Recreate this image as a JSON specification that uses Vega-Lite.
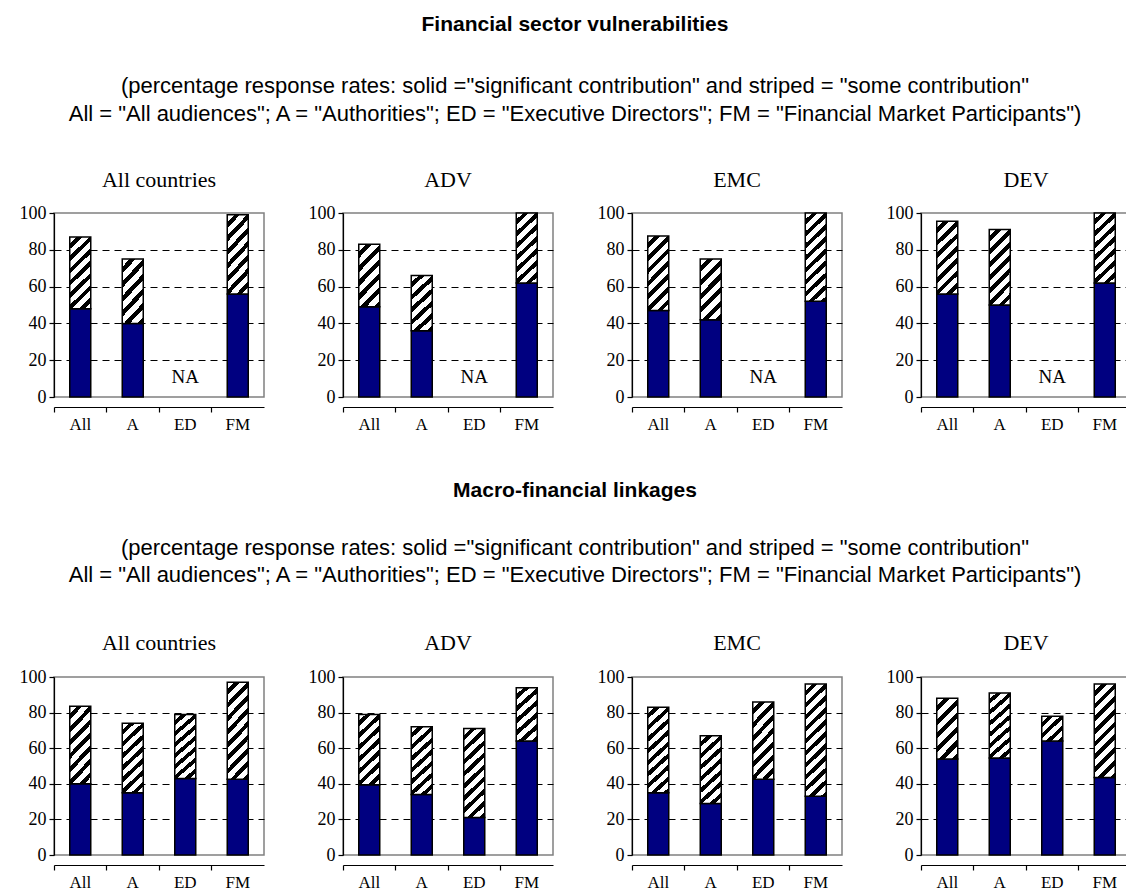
{
  "$schema": "https://vega.github.io/schema/vega-lite/v6.json",
  "background": "white",
  "padding": {"left": 18, "top": 14, "right": 0, "bottom": 0},
  "datasets": {
    "d": [
      {"sec": "F", "grp": "All countries", "aud": "All", "sig": 48, "total": 87},
      {"sec": "F", "grp": "All countries", "aud": "A", "sig": 40, "total": 75},
      {"sec": "F", "grp": "All countries", "aud": "ED", "sig": null, "total": null},
      {"sec": "F", "grp": "All countries", "aud": "FM", "sig": 56, "total": 99},
      {"sec": "F", "grp": "ADV", "aud": "All", "sig": 49, "total": 83},
      {"sec": "F", "grp": "ADV", "aud": "A", "sig": 36, "total": 66},
      {"sec": "F", "grp": "ADV", "aud": "ED", "sig": null, "total": null},
      {"sec": "F", "grp": "ADV", "aud": "FM", "sig": 62, "total": 100},
      {"sec": "F", "grp": "EMC", "aud": "All", "sig": 47, "total": 87.5},
      {"sec": "F", "grp": "EMC", "aud": "A", "sig": 42, "total": 75},
      {"sec": "F", "grp": "EMC", "aud": "ED", "sig": null, "total": null},
      {"sec": "F", "grp": "EMC", "aud": "FM", "sig": 52, "total": 100},
      {"sec": "F", "grp": "DEV", "aud": "All", "sig": 56, "total": 95.5},
      {"sec": "F", "grp": "DEV", "aud": "A", "sig": 50, "total": 91},
      {"sec": "F", "grp": "DEV", "aud": "ED", "sig": null, "total": null},
      {"sec": "F", "grp": "DEV", "aud": "FM", "sig": 62, "total": 100},
      {"sec": "M", "grp": "All countries", "aud": "All", "sig": 40, "total": 83.5},
      {"sec": "M", "grp": "All countries", "aud": "A", "sig": 35, "total": 74},
      {"sec": "M", "grp": "All countries", "aud": "ED", "sig": 43, "total": 79},
      {"sec": "M", "grp": "All countries", "aud": "FM", "sig": 42.5, "total": 97},
      {"sec": "M", "grp": "ADV", "aud": "All", "sig": 39.5, "total": 79},
      {"sec": "M", "grp": "ADV", "aud": "A", "sig": 34, "total": 72},
      {"sec": "M", "grp": "ADV", "aud": "ED", "sig": 21, "total": 71},
      {"sec": "M", "grp": "ADV", "aud": "FM", "sig": 64, "total": 94},
      {"sec": "M", "grp": "EMC", "aud": "All", "sig": 35, "total": 83},
      {"sec": "M", "grp": "EMC", "aud": "A", "sig": 29, "total": 67},
      {"sec": "M", "grp": "EMC", "aud": "ED", "sig": 42.5, "total": 86},
      {"sec": "M", "grp": "EMC", "aud": "FM", "sig": 33, "total": 96},
      {"sec": "M", "grp": "DEV", "aud": "All", "sig": 54, "total": 88},
      {"sec": "M", "grp": "DEV", "aud": "A", "sig": 54.5, "total": 91},
      {"sec": "M", "grp": "DEV", "aud": "ED", "sig": 64, "total": 78},
      {"sec": "M", "grp": "DEV", "aud": "FM", "sig": 43.5, "total": 96}
    ]
  },
  "config": {
    "view": {"stroke": "#808080", "strokeWidth": 1.5},
    "axis": {"domainColor": "black", "tickColor": "black", "labelColor": "black", "labelFont": "Liberation Serif", "tickSize": 5, "domainWidth": 1.2, "tickWidth": 1.2, "labelOverlap": false},
    "axisX": {"labelFontSize": 17},
    "axisY": {"labelFontSize": 18},
    "header": {"labelFont": "Liberation Serif", "labelFontSize": 22, "labelColor": "black"}
  },
  "spacing": 48,
  "vconcat": [
    {
      "title": {"text": "Financial sector vulnerabilities", "subtitle": ["(percentage response rates: solid =\"significant contribution\" and striped = \"some contribution\"", "All = \"All audiences\"; A = \"Authorities\"; ED = \"Executive Directors\"; FM = \"Financial Market Participants\")"], "font": "Liberation Sans", "fontSize": 21, "fontWeight": "bold", "color": "black", "subtitleFont": "Liberation Sans", "subtitleFontSize": 22, "subtitleColor": "black", "subtitlePadding": 41, "subtitleLineHeight": 28, "anchor": "middle", "offset": 44},
      "data": {"name": "d"},
      "transform": [{"filter": "datum.sec == 'F'"}],
      "facet": {"column": {"field": "grp", "type": "nominal", "sort": ["All countries", "ADV", "EMC", "DEV"], "title": null, "header": {"labelPadding": 11}}},
      "spacing": {"column": 42},
      "resolve": {"axis": {"y": "independent"}},
      "spec": {
        "width": 210,
        "height": 184,
        "encoding": {
          "x": {"field": "aud", "type": "nominal", "sort": ["All", "A", "ED", "FM"], "scale": {"paddingInner": 0.6, "paddingOuter": 0.3}, "axis": {"title": null, "labelAngle": 0, "bandPosition": -0.75, "labelPadding": 4}}
        },
        "layer": [
          {
            "mark": {"type": "bar", "fill": "#000080", "stroke": "black", "strokeWidth": 1.5},
            "encoding": {"y": {"field": "sig", "type": "quantitative", "scale": {"domain": [0, 100], "nice": false}, "axis": {"title": null, "values": [0, 20, 40, 60, 80, 100], "tickCount": 6, "grid": true, "gridDash": [7, 5], "gridColor": {"condition": {"test": "datum.value == 100 || datum.value == 0", "value": "transparent"}, "value": "black"}, "labelPadding": 3}}}
          },
          {
            "mark": {"type": "bar", "stroke": "black", "strokeWidth": 1.5},
            "encoding": {
              "y": {"field": "sig", "type": "quantitative", "scale": {"domain": [0, 100], "nice": false}, "axis": {"title": null, "values": [0, 20, 40, 60, 80, 100], "tickCount": 6, "grid": true, "gridDash": [7, 5], "gridColor": {"condition": {"test": "datum.value == 100 || datum.value == 0", "value": "transparent"}, "value": "black"}, "labelPadding": 3}},
              "y2": {"field": "total"},
              "fill": {"condition": [
                {"test": "datum.total - datum.sig < 22", "value": {"gradient": "linear", "x1": 0, "y1": 0, "x2": 0.884, "y2": 1.094, "stops": [{"offset": 0, "color": "white"}, {"offset": 0.1375, "color": "white"}, {"offset": 0.1375, "color": "black"}, {"offset": 0.25, "color": "black"}, {"offset": 0.25, "color": "white"}, {"offset": 0.3875, "color": "white"}, {"offset": 0.3875, "color": "black"}, {"offset": 0.5, "color": "black"}, {"offset": 0.5, "color": "white"}, {"offset": 0.6375, "color": "white"}, {"offset": 0.6375, "color": "black"}, {"offset": 0.75, "color": "black"}, {"offset": 0.75, "color": "white"}, {"offset": 0.8875, "color": "white"}, {"offset": 0.8875, "color": "black"}, {"offset": 1, "color": "black"}]}},
                {"test": "datum.total - datum.sig < 36", "value": {"gradient": "linear", "x1": 0, "y1": 0, "x2": 0.421, "y2": 1.203, "stops": [{"offset": 0, "color": "white"}, {"offset": 0.0917, "color": "white"}, {"offset": 0.0917, "color": "black"}, {"offset": 0.1667, "color": "black"}, {"offset": 0.1667, "color": "white"}, {"offset": 0.2583, "color": "white"}, {"offset": 0.2583, "color": "black"}, {"offset": 0.3333, "color": "black"}, {"offset": 0.3333, "color": "white"}, {"offset": 0.425, "color": "white"}, {"offset": 0.425, "color": "black"}, {"offset": 0.5, "color": "black"}, {"offset": 0.5, "color": "white"}, {"offset": 0.5917, "color": "white"}, {"offset": 0.5917, "color": "black"}, {"offset": 0.6667, "color": "black"}, {"offset": 0.6667, "color": "white"}, {"offset": 0.7583, "color": "white"}, {"offset": 0.7583, "color": "black"}, {"offset": 0.8333, "color": "black"}, {"offset": 0.8333, "color": "white"}, {"offset": 0.925, "color": "white"}, {"offset": 0.925, "color": "black"}, {"offset": 1, "color": "black"}]}},
                {"test": "datum.total - datum.sig < 45", "value": {"gradient": "linear", "x1": 0, "y1": 0, "x2": 0.337, "y2": 1.188, "stops": [{"offset": 0, "color": "white"}, {"offset": 0.0733, "color": "white"}, {"offset": 0.0733, "color": "black"}, {"offset": 0.1333, "color": "black"}, {"offset": 0.1333, "color": "white"}, {"offset": 0.2067, "color": "white"}, {"offset": 0.2067, "color": "black"}, {"offset": 0.2667, "color": "black"}, {"offset": 0.2667, "color": "white"}, {"offset": 0.34, "color": "white"}, {"offset": 0.34, "color": "black"}, {"offset": 0.4, "color": "black"}, {"offset": 0.4, "color": "white"}, {"offset": 0.4733, "color": "white"}, {"offset": 0.4733, "color": "black"}, {"offset": 0.5333, "color": "black"}, {"offset": 0.5333, "color": "white"}, {"offset": 0.6067, "color": "white"}, {"offset": 0.6067, "color": "black"}, {"offset": 0.6667, "color": "black"}, {"offset": 0.6667, "color": "white"}, {"offset": 0.74, "color": "white"}, {"offset": 0.74, "color": "black"}, {"offset": 0.8, "color": "black"}, {"offset": 0.8, "color": "white"}, {"offset": 0.8733, "color": "white"}, {"offset": 0.8733, "color": "black"}, {"offset": 0.9333, "color": "black"}, {"offset": 0.9333, "color": "white"}, {"offset": 1, "color": "white"}]}},
                {"test": "datum.total - datum.sig < 56", "value": {"gradient": "linear", "x1": 0, "y1": 0, "x2": 0.263, "y2": 1.166, "stops": [{"offset": 0, "color": "white"}, {"offset": 0.0611, "color": "white"}, {"offset": 0.0611, "color": "black"}, {"offset": 0.1111, "color": "black"}, {"offset": 0.1111, "color": "white"}, {"offset": 0.1722, "color": "white"}, {"offset": 0.1722, "color": "black"}, {"offset": 0.2222, "color": "black"}, {"offset": 0.2222, "color": "white"}, {"offset": 0.2833, "color": "white"}, {"offset": 0.2833, "color": "black"}, {"offset": 0.3333, "color": "black"}, {"offset": 0.3333, "color": "white"}, {"offset": 0.3944, "color": "white"}, {"offset": 0.3944, "color": "black"}, {"offset": 0.4444, "color": "black"}, {"offset": 0.4444, "color": "white"}, {"offset": 0.5056, "color": "white"}, {"offset": 0.5056, "color": "black"}, {"offset": 0.5556, "color": "black"}, {"offset": 0.5556, "color": "white"}, {"offset": 0.6167, "color": "white"}, {"offset": 0.6167, "color": "black"}, {"offset": 0.6667, "color": "black"}, {"offset": 0.6667, "color": "white"}, {"offset": 0.7278, "color": "white"}, {"offset": 0.7278, "color": "black"}, {"offset": 0.7778, "color": "black"}, {"offset": 0.7778, "color": "white"}, {"offset": 0.8389, "color": "white"}, {"offset": 0.8389, "color": "black"}, {"offset": 0.8889, "color": "black"}, {"offset": 0.8889, "color": "white"}, {"offset": 0.95, "color": "white"}, {"offset": 0.95, "color": "black"}, {"offset": 1, "color": "black"}]}}
              ], "value": {"gradient": "linear", "x1": 0, "y1": 0, "x2": 0.207, "y2": 1.144, "stops": [{"offset": 0, "color": "white"}, {"offset": 0.05, "color": "white"}, {"offset": 0.05, "color": "black"}, {"offset": 0.0909, "color": "black"}, {"offset": 0.0909, "color": "white"}, {"offset": 0.1409, "color": "white"}, {"offset": 0.1409, "color": "black"}, {"offset": 0.1818, "color": "black"}, {"offset": 0.1818, "color": "white"}, {"offset": 0.2318, "color": "white"}, {"offset": 0.2318, "color": "black"}, {"offset": 0.2727, "color": "black"}, {"offset": 0.2727, "color": "white"}, {"offset": 0.3227, "color": "white"}, {"offset": 0.3227, "color": "black"}, {"offset": 0.3636, "color": "black"}, {"offset": 0.3636, "color": "white"}, {"offset": 0.4136, "color": "white"}, {"offset": 0.4136, "color": "black"}, {"offset": 0.4545, "color": "black"}, {"offset": 0.4545, "color": "white"}, {"offset": 0.5045, "color": "white"}, {"offset": 0.5045, "color": "black"}, {"offset": 0.5455, "color": "black"}, {"offset": 0.5455, "color": "white"}, {"offset": 0.5955, "color": "white"}, {"offset": 0.5955, "color": "black"}, {"offset": 0.6364, "color": "black"}, {"offset": 0.6364, "color": "white"}, {"offset": 0.6864, "color": "white"}, {"offset": 0.6864, "color": "black"}, {"offset": 0.7273, "color": "black"}, {"offset": 0.7273, "color": "white"}, {"offset": 0.7773, "color": "white"}, {"offset": 0.7773, "color": "black"}, {"offset": 0.8182, "color": "black"}, {"offset": 0.8182, "color": "white"}, {"offset": 0.8682, "color": "white"}, {"offset": 0.8682, "color": "black"}, {"offset": 0.9091, "color": "black"}, {"offset": 0.9091, "color": "white"}, {"offset": 0.9591, "color": "white"}, {"offset": 0.9591, "color": "black"}, {"offset": 1, "color": "black"}]}}
            }
          },
          {
            "transform": [{"filter": "datum.sig == null"}],
            "mark": {"type": "text", "font": "Liberation Serif", "fontSize": 19, "color": "black"},
            "encoding": {"y": {"datum": 11, "type": "quantitative"}, "text": {"value": "NA"}}
          }
        ]
      }
    },
    {
      "title": {"text": "Macro-financial linkages", "subtitle": ["(percentage response rates: solid =\"significant contribution\" and striped = \"some contribution\"", "All = \"All audiences\"; A = \"Authorities\"; ED = \"Executive Directors\"; FM = \"Financial Market Participants\")"], "font": "Liberation Sans", "fontSize": 21, "fontWeight": "bold", "color": "black", "subtitleFont": "Liberation Sans", "subtitleFontSize": 22, "subtitleColor": "black", "subtitlePadding": 37, "subtitleLineHeight": 27, "anchor": "middle", "offset": 46},
      "data": {"name": "d"},
      "transform": [{"filter": "datum.sec == 'M'"}],
      "facet": {"column": {"field": "grp", "type": "nominal", "sort": ["All countries", "ADV", "EMC", "DEV"], "title": null, "header": {"labelPadding": 12}}},
      "spacing": {"column": 42},
      "resolve": {"axis": {"y": "independent"}},
      "spec": {
        "width": 210,
        "height": 178,
        "encoding": {
          "x": {"field": "aud", "type": "nominal", "sort": ["All", "A", "ED", "FM"], "scale": {"paddingInner": 0.6, "paddingOuter": 0.3}, "axis": {"title": null, "labelAngle": 0, "bandPosition": -0.75, "labelPadding": 4}}
        },
        "layer": [
          {
            "mark": {"type": "bar", "fill": "#000080", "stroke": "black", "strokeWidth": 1.5},
            "encoding": {"y": {"field": "sig", "type": "quantitative", "scale": {"domain": [0, 100], "nice": false}, "axis": {"title": null, "values": [0, 20, 40, 60, 80, 100], "tickCount": 6, "grid": true, "gridDash": [7, 5], "gridColor": {"condition": {"test": "datum.value == 100 || datum.value == 0", "value": "transparent"}, "value": "black"}, "labelPadding": 3}}}
          },
          {
            "mark": {"type": "bar", "stroke": "black", "strokeWidth": 1.5},
            "encoding": {
              "y": {"field": "sig", "type": "quantitative", "scale": {"domain": [0, 100], "nice": false}, "axis": {"title": null, "values": [0, 20, 40, 60, 80, 100], "tickCount": 6, "grid": true, "gridDash": [7, 5], "gridColor": {"condition": {"test": "datum.value == 100 || datum.value == 0", "value": "transparent"}, "value": "black"}, "labelPadding": 3}},
              "y2": {"field": "total"},
              "fill": {"condition": [
                {"test": "datum.total - datum.sig < 22", "value": {"gradient": "linear", "x1": 0, "y1": 0, "x2": 0.884, "y2": 1.094, "stops": [{"offset": 0, "color": "white"}, {"offset": 0.1375, "color": "white"}, {"offset": 0.1375, "color": "black"}, {"offset": 0.25, "color": "black"}, {"offset": 0.25, "color": "white"}, {"offset": 0.3875, "color": "white"}, {"offset": 0.3875, "color": "black"}, {"offset": 0.5, "color": "black"}, {"offset": 0.5, "color": "white"}, {"offset": 0.6375, "color": "white"}, {"offset": 0.6375, "color": "black"}, {"offset": 0.75, "color": "black"}, {"offset": 0.75, "color": "white"}, {"offset": 0.8875, "color": "white"}, {"offset": 0.8875, "color": "black"}, {"offset": 1, "color": "black"}]}},
                {"test": "datum.total - datum.sig < 36", "value": {"gradient": "linear", "x1": 0, "y1": 0, "x2": 0.421, "y2": 1.203, "stops": [{"offset": 0, "color": "white"}, {"offset": 0.0917, "color": "white"}, {"offset": 0.0917, "color": "black"}, {"offset": 0.1667, "color": "black"}, {"offset": 0.1667, "color": "white"}, {"offset": 0.2583, "color": "white"}, {"offset": 0.2583, "color": "black"}, {"offset": 0.3333, "color": "black"}, {"offset": 0.3333, "color": "white"}, {"offset": 0.425, "color": "white"}, {"offset": 0.425, "color": "black"}, {"offset": 0.5, "color": "black"}, {"offset": 0.5, "color": "white"}, {"offset": 0.5917, "color": "white"}, {"offset": 0.5917, "color": "black"}, {"offset": 0.6667, "color": "black"}, {"offset": 0.6667, "color": "white"}, {"offset": 0.7583, "color": "white"}, {"offset": 0.7583, "color": "black"}, {"offset": 0.8333, "color": "black"}, {"offset": 0.8333, "color": "white"}, {"offset": 0.925, "color": "white"}, {"offset": 0.925, "color": "black"}, {"offset": 1, "color": "black"}]}},
                {"test": "datum.total - datum.sig < 45", "value": {"gradient": "linear", "x1": 0, "y1": 0, "x2": 0.337, "y2": 1.188, "stops": [{"offset": 0, "color": "white"}, {"offset": 0.0733, "color": "white"}, {"offset": 0.0733, "color": "black"}, {"offset": 0.1333, "color": "black"}, {"offset": 0.1333, "color": "white"}, {"offset": 0.2067, "color": "white"}, {"offset": 0.2067, "color": "black"}, {"offset": 0.2667, "color": "black"}, {"offset": 0.2667, "color": "white"}, {"offset": 0.34, "color": "white"}, {"offset": 0.34, "color": "black"}, {"offset": 0.4, "color": "black"}, {"offset": 0.4, "color": "white"}, {"offset": 0.4733, "color": "white"}, {"offset": 0.4733, "color": "black"}, {"offset": 0.5333, "color": "black"}, {"offset": 0.5333, "color": "white"}, {"offset": 0.6067, "color": "white"}, {"offset": 0.6067, "color": "black"}, {"offset": 0.6667, "color": "black"}, {"offset": 0.6667, "color": "white"}, {"offset": 0.74, "color": "white"}, {"offset": 0.74, "color": "black"}, {"offset": 0.8, "color": "black"}, {"offset": 0.8, "color": "white"}, {"offset": 0.8733, "color": "white"}, {"offset": 0.8733, "color": "black"}, {"offset": 0.9333, "color": "black"}, {"offset": 0.9333, "color": "white"}, {"offset": 1, "color": "white"}]}},
                {"test": "datum.total - datum.sig < 56", "value": {"gradient": "linear", "x1": 0, "y1": 0, "x2": 0.263, "y2": 1.166, "stops": [{"offset": 0, "color": "white"}, {"offset": 0.0611, "color": "white"}, {"offset": 0.0611, "color": "black"}, {"offset": 0.1111, "color": "black"}, {"offset": 0.1111, "color": "white"}, {"offset": 0.1722, "color": "white"}, {"offset": 0.1722, "color": "black"}, {"offset": 0.2222, "color": "black"}, {"offset": 0.2222, "color": "white"}, {"offset": 0.2833, "color": "white"}, {"offset": 0.2833, "color": "black"}, {"offset": 0.3333, "color": "black"}, {"offset": 0.3333, "color": "white"}, {"offset": 0.3944, "color": "white"}, {"offset": 0.3944, "color": "black"}, {"offset": 0.4444, "color": "black"}, {"offset": 0.4444, "color": "white"}, {"offset": 0.5056, "color": "white"}, {"offset": 0.5056, "color": "black"}, {"offset": 0.5556, "color": "black"}, {"offset": 0.5556, "color": "white"}, {"offset": 0.6167, "color": "white"}, {"offset": 0.6167, "color": "black"}, {"offset": 0.6667, "color": "black"}, {"offset": 0.6667, "color": "white"}, {"offset": 0.7278, "color": "white"}, {"offset": 0.7278, "color": "black"}, {"offset": 0.7778, "color": "black"}, {"offset": 0.7778, "color": "white"}, {"offset": 0.8389, "color": "white"}, {"offset": 0.8389, "color": "black"}, {"offset": 0.8889, "color": "black"}, {"offset": 0.8889, "color": "white"}, {"offset": 0.95, "color": "white"}, {"offset": 0.95, "color": "black"}, {"offset": 1, "color": "black"}]}}
              ], "value": {"gradient": "linear", "x1": 0, "y1": 0, "x2": 0.207, "y2": 1.144, "stops": [{"offset": 0, "color": "white"}, {"offset": 0.05, "color": "white"}, {"offset": 0.05, "color": "black"}, {"offset": 0.0909, "color": "black"}, {"offset": 0.0909, "color": "white"}, {"offset": 0.1409, "color": "white"}, {"offset": 0.1409, "color": "black"}, {"offset": 0.1818, "color": "black"}, {"offset": 0.1818, "color": "white"}, {"offset": 0.2318, "color": "white"}, {"offset": 0.2318, "color": "black"}, {"offset": 0.2727, "color": "black"}, {"offset": 0.2727, "color": "white"}, {"offset": 0.3227, "color": "white"}, {"offset": 0.3227, "color": "black"}, {"offset": 0.3636, "color": "black"}, {"offset": 0.3636, "color": "white"}, {"offset": 0.4136, "color": "white"}, {"offset": 0.4136, "color": "black"}, {"offset": 0.4545, "color": "black"}, {"offset": 0.4545, "color": "white"}, {"offset": 0.5045, "color": "white"}, {"offset": 0.5045, "color": "black"}, {"offset": 0.5455, "color": "black"}, {"offset": 0.5455, "color": "white"}, {"offset": 0.5955, "color": "white"}, {"offset": 0.5955, "color": "black"}, {"offset": 0.6364, "color": "black"}, {"offset": 0.6364, "color": "white"}, {"offset": 0.6864, "color": "white"}, {"offset": 0.6864, "color": "black"}, {"offset": 0.7273, "color": "black"}, {"offset": 0.7273, "color": "white"}, {"offset": 0.7773, "color": "white"}, {"offset": 0.7773, "color": "black"}, {"offset": 0.8182, "color": "black"}, {"offset": 0.8182, "color": "white"}, {"offset": 0.8682, "color": "white"}, {"offset": 0.8682, "color": "black"}, {"offset": 0.9091, "color": "black"}, {"offset": 0.9091, "color": "white"}, {"offset": 0.9591, "color": "white"}, {"offset": 0.9591, "color": "black"}, {"offset": 1, "color": "black"}]}}
            }
          }
        ]
      }
    }
  ]
}
